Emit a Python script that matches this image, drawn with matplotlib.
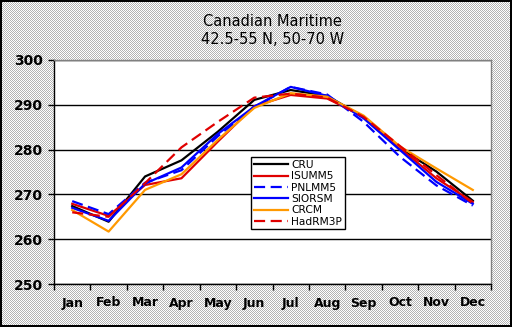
import numpy as np
import matplotlib
matplotlib.use("Agg")
import matplotlib.pyplot as plt
from matplotlib.colors import to_rgb

months = ["Jan", "Feb", "Mar", "Apr", "May", "Jun",
          "Jul", "Aug", "Sep", "Oct", "Nov", "Dec"]

cru     = [267.4, 263.9, 274.0, 277.6, 284.0, 291.1, 293.3, 292.0, 287.3, 280.3, 275.1, 268.6]
isumm5  = [267.9, 265.2, 272.1, 273.6, 281.8, 289.7, 292.2, 291.4, 287.4, 280.3, 273.6, 268.3]
pnlmm5  = [268.5, 265.6, 272.6, 275.4, 283.0, 289.5, 294.0, 292.3, 286.2, 278.4, 272.0, 267.5]
siorsm  = [267.0, 264.1, 272.4, 276.0, 283.5, 289.6, 294.0, 292.0, 287.0, 279.9, 272.8, 267.9]
crcm    = [266.5, 261.7, 271.0, 274.5, 282.2, 289.3, 292.6, 291.8, 287.6, 280.7, 275.8, 271.0]
hadrm3p = [266.0, 265.0, 272.5, 280.5, 286.2, 291.6, 292.5, 291.6, 287.3, 280.8, 274.3, 268.0]

W, H = 512, 327
fig = plt.figure(figsize=(W / 100, H / 100), dpi=100)

# dithered grey backdrop with a black frame
bg = np.ones((H, W, 3))
yy, xx = np.mgrid[0:H, 0:W]
dots = (xx + yy) % 2 == 0
bg[dots] = to_rgb("#b4b4b4")
bg[:, 0:2] = 0
bg[0:2, :] = 0
bg[H - 2:, :] = 0
bg[:, W - 2:] = 0
fig.figimage(bg, 0, 0, zorder=-10)

left, right, top, bottom = 54, 491, 60, 284
ax = fig.add_axes([left / W, (H - bottom) / H, (right - left) / W, (bottom - top) / H])
ax.set_zorder(1)
ax.set_facecolor("white")

x = np.arange(len(months))
series = [
    ("CRU", cru, "black", "-"),
    ("ISUMM5", isumm5, "#e00000", "-"),
    ("PNLMM5", pnlmm5, "#0000ff", (0, (5, 2.5))),
    ("SIORSM", siorsm, "#0000ff", "-"),
    ("CRCM", crcm, "#ff9900", "-"),
    ("HadRM3P", hadrm3p, "#e00000", (0, (5, 2.5))),
]
for name, vals, col, ls in series:
    ax.plot(x, vals, color=col, linestyle=ls, linewidth=1.6, label=name, zorder=3)

ax.set_xlim(-0.5, 11.5)
ax.set_ylim(250, 300)
ax.set_yticks([250, 260, 270, 280, 290, 300])
ax.yaxis.grid(True, color="black", linewidth=1.0)
ax.set_axisbelow(True)

ax.set_xticks(x)
ax.set_xticklabels(months)
ax.set_xticks(np.arange(-0.5, 12, 1), minor=True)
ax.tick_params(axis="x", which="major", length=0, pad=9)
ax.tick_params(axis="x", which="minor", length=4, width=1, direction="out", color="black")
ax.tick_params(axis="y", length=4, width=1, direction="out", pad=4)
for lab in ax.get_xticklabels() + ax.get_yticklabels():
    lab.set_fontweight("bold")
    lab.set_fontsize(9)
for lab in ax.get_yticklabels():
    lab.set_fontsize(10)

for s in ("top", "right"):
    ax.spines[s].set_color("#808080")
    ax.spines[s].set_linewidth(1.0)
for s in ("left", "bottom"):
    ax.spines[s].set_color("black")
    ax.spines[s].set_linewidth(1.0)

leg = ax.legend(loc="upper left", bbox_to_anchor=(0.451, 0.565), fontsize=7.7,
                frameon=True, fancybox=False, edgecolor="black", framealpha=1,
                handlelength=3.2, handletextpad=0.3, borderpad=0.25,
                labelspacing=0.12, borderaxespad=0)
leg.get_frame().set_linewidth(1.0)

fig.text((left + right) / 2 / W, 1 - 22 / H, "Canadian Maritime",
         ha="center", va="center", fontsize=10.5)
fig.text((left + right) / 2 / W, 1 - 40 / H, "42.5-55 N, 50-70 W",
         ha="center", va="center", fontsize=10.5)

fig.savefig("out.png", dpi=100)
